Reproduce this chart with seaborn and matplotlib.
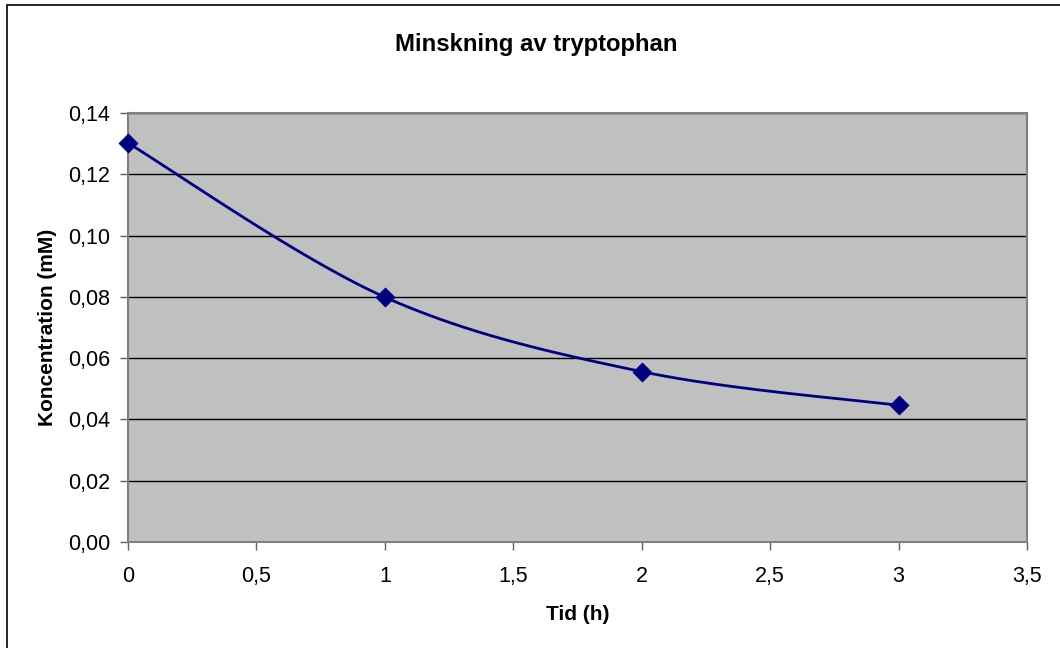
import numpy as np
import pandas as pd
import seaborn as sns
import matplotlib
matplotlib.use("Agg")
import matplotlib.pyplot as plt
from matplotlib.patches import Rectangle

# Data
tid = [0, 1, 2, 3]
koncentration = [0.1302, 0.0799, 0.0556, 0.0446]
title = "Minskning av tryptophan"
xlabel = "Tid (h)"
ylabel = "Koncentration (mM)"
xticks = [0, 0.5, 1, 1.5, 2, 2.5, 3, 3.5]
yticks = [0, 0.02, 0.04, 0.06, 0.08, 0.10, 0.12, 0.14]

sns.set_theme(style="white")
plt.rcParams['font.family'] = ['Liberation Sans', 'DejaVu Sans']
plt.rcParams['text.color'] = 'black'
plt.rcParams['axes.labelcolor'] = 'black'
plt.rcParams['xtick.color'] = 'black'
plt.rcParams['ytick.color'] = 'black'

fig = plt.figure(figsize=(10.6, 6.48), dpi=100)
ax = fig.add_axes([128/1060, 1-542/648, (1027-128)/1060, (542-113)/648])
ax.set_facecolor("#C0C0C0")

# Smooth (Excel-like Catmull-Rom) curve through data points
def catmull(xs, ys, n=60):
    xs = np.asarray(xs, float); ys = np.asarray(ys, float)
    px = np.concatenate([[xs[0]], xs, [xs[-1]]])
    py = np.concatenate([[ys[0]], ys, [ys[-1]]])
    outx, outy = [], []
    for i in range(1, len(px) - 2):
        p0 = np.array([px[i], py[i]]); p3 = np.array([px[i+1], py[i+1]])
        t0 = (np.array([px[i+1], py[i+1]]) - np.array([px[i-1], py[i-1]])) / 6
        t1 = (np.array([px[i+2], py[i+2]]) - np.array([px[i], py[i]])) / 6
        c1 = p0 + t0; c2 = p3 - t1
        t = np.linspace(0, 1, n)[:, None]
        b = (1-t)**3*p0 + 3*(1-t)**2*t*c1 + 3*(1-t)*t**2*c2 + t**3*p3
        outx.extend(b[:, 0]); outy.extend(b[:, 1])
    return np.array(outx), np.array(outy)

sx, sy = catmull(tid, koncentration)
curve = pd.DataFrame({"x": sx, "y": sy})
sns.lineplot(data=curve, x="x", y="y", sort=False, estimator=None, ax=ax,
             color="#000080", linewidth=2, zorder=3)
df = pd.DataFrame({"tid": tid, "konc": koncentration})
sns.scatterplot(data=df, x="tid", y="konc", ax=ax, marker="D", s=90,
                color="#000080", edgecolor="#000080", zorder=4, clip_on=False)

ax.set_xlim(0, 3.5)
ax.set_ylim(0, 0.14)
ax.set_xticks(xticks)
ax.set_yticks(yticks)
ax.set_xticklabels([("%g" % v).replace(".", ",") for v in xticks], fontsize=15.5)
ax.set_yticklabels([("%.2f" % v).replace(".", ",") for v in yticks], fontsize=15.5)
ax.yaxis.grid(True, color="black", linewidth=1)
ax.xaxis.grid(False)
ax.set_axisbelow(True)
for s in ax.spines.values():
    s.set_color("#808080")
    s.set_linewidth(1.5)
ax.tick_params(axis="both", direction="out", length=6, width=1, color="#606060",
               bottom=True, left=True)
ax.tick_params(axis="y", pad=7)
ax.tick_params(axis="x", pad=11)
ax.set_xlabel(xlabel, fontsize=15, fontweight="bold", labelpad=13)
ax.set_ylabel(ylabel, fontsize=15, fontweight="bold", labelpad=8)

fig.text(536/1060, 1-44/648, title, ha="center", va="center",
         fontsize=17.2, fontweight="bold")

fig.patches.append(Rectangle((7/1060, -0.01), 1.05, 1-5/648+0.01,
                             transform=fig.transFigure, fill=False,
                             edgecolor="black", linewidth=1.2))

fig.savefig("out.png", dpi=100)
